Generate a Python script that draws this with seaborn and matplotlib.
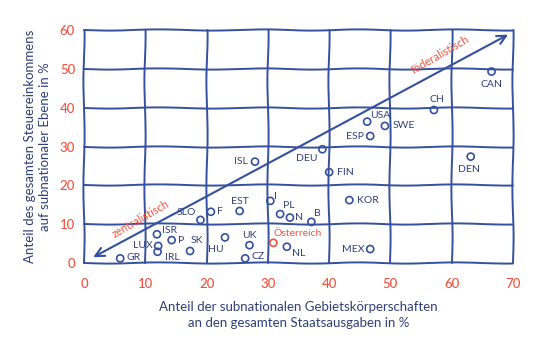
import matplotlib
matplotlib.use("Agg")
import matplotlib.pyplot as plt
import seaborn as sns
import pandas as pd

# ---- data ----
countries = ["CAN", "CH", "USA", "SWE", "ESP", "ISL", "EST", "F", "SLO", "I",
             "PL", "N", "B", "Österreich", "NL", "UK", "CZ", "HU", "SK", "P",
             "ISR", "LUX", "IRL", "GR", "DEU", "FIN", "KOR", "MEX", "DEN"]
ausgaben = [66.5, 57.1, 46.2, 49.1, 46.7, 27.9, 25.4, 20.7, 19.0, 30.4,
            32.0, 33.6, 37.1, 30.9, 33.1, 27.0, 26.3, 23.0, 17.3, 14.3,
            11.9, 12.1, 12.0, 5.9, 38.9, 40.0, 43.3, 46.7, 63.1]
steuern = [49.3, 39.4, 36.4, 35.3, 32.7, 26.1, 13.4, 13.2, 11.1, 16.0,
           12.6, 11.7, 10.6, 5.2, 4.2, 4.6, 1.2, 6.6, 3.1, 5.9,
           7.4, 4.4, 2.9, 1.2, 29.3, 23.4, 16.2, 3.6, 27.4]
x_ticks = [0, 10, 20, 30, 40, 50, 60, 70]
y_ticks = [0, 10, 20, 30, 40, 50, 60]
highlight = "Österreich"
x_title = "Anteil der subnationalen Gebietskörperschaften\nan den gesamten Staatsausgaben in %"
y_title = "Anteil des gesamten Steuereinkommens\nauf subnationaler Ebene in %"
arrow_up_text = "föderalistisch"
arrow_down_text = "zentralistisch"

# label placement (offsets in pixels from the point)
label_offsets = {
    "CAN": (0, -13), "CH": (3, 10.5), "USA": (13, 6), "SWE": (18.5, 0),
    "ESP": (-15.5, 0), "ISL": (-14.5, 0), "EST": (0, 9), "F": (9, 0),
    "SLO": (-14, 7), "I": (5, 4), "PL": (9, 9), "N": (9.5, 0), "B": (6.5, 8.5),
    "Österreich": (24, 9), "NL": (12, -6.5), "UK": (0, 10), "CZ": (13, 1.5),
    "HU": (-9.5, -12), "SK": (7, 10), "P": (9, 0), "ISR": (13, 3.5),
    "LUX": (-15.5, 0), "IRL": (15, -5.5), "GR": (13, 0.5), "DEU": (-15.5, -9.5),
    "FIN": (16.5, 0), "KOR": (19, 0), "MEX": (-17, 0), "DEN": (-2, -13),
}

BLUE = "#34509e"
TEXT = "#2f3f78"
RED = "#f1523d"
SKETCH = (0.6, 110, 2)

sns.set_theme(style="white")
plt.rcParams["font.family"] = ["Lato", "DejaVu Sans"]

df = pd.DataFrame({"land": countries, "ausgaben": ausgaben, "steuern": steuern})
df["gruppe"] = ["hl" if c == highlight else "std" for c in countries]

fig = plt.figure(figsize=(5.35, 3.49), dpi=100)
ax = fig.add_axes([0.1456, 0.2352, 0.8247, 0.69])

# hand-drawn grid box
for xv in x_ticks:
    ln, = ax.plot([xv, xv], [y_ticks[0], y_ticks[-1]], color=BLUE, lw=1.4, zorder=1)
    ln.set_sketch_params(*SKETCH)
for yv in y_ticks:
    ln, = ax.plot([x_ticks[0], x_ticks[-1]], [yv, yv], color=BLUE, lw=1.4, zorder=1)
    ln.set_sketch_params(*SKETCH)

sns.scatterplot(data=df, x="ausgaben", y="steuern", hue="gruppe",
                palette={"std": BLUE, "hl": RED}, s=26, marker="o",
                legend=False, ax=ax, zorder=3)
for coll in ax.collections:
    coll.set_edgecolor(coll.get_facecolor())
    coll.set_facecolor("none")
    coll.set_linewidth(1.2)

# diagonal arrow
ax.annotate("", xy=(69.2, 58.8), xytext=(1.5, 1.5),
            arrowprops=dict(arrowstyle="<->", color=BLUE, lw=1.5, mutation_scale=16,
                            shrinkA=0, shrinkB=0), zorder=2)
ax.text(58.2, 53.6, arrow_up_text, color=RED, fontsize=8, rotation=30,
        ha="center", va="center")
ax.text(9.3, 11.3, arrow_down_text, color=RED, fontsize=8, rotation=30,
        ha="center", va="center")

for _, r in df.iterrows():
    col = RED if r["land"] == highlight else TEXT
    ax.annotate(r["land"], (r["ausgaben"], r["steuern"]),
                xytext=label_offsets[r["land"]], textcoords="offset pixels",
                ha="center", va="center", fontsize=7.5, color=col, zorder=4)

ax.set_xlim(-1, 71)
ax.set_ylim(-1, 61)
ax.set_xticks(x_ticks)
ax.set_yticks(y_ticks)
ax.tick_params(axis="both", length=0, colors=RED, labelsize=9.5)
ax.tick_params(axis="x", pad=8)
ax.tick_params(axis="y", pad=2)
for t in ax.get_xticklabels() + ax.get_yticklabels():
    t.set_fontweight("medium")
for s in ax.spines.values():
    s.set_visible(False)
ax.grid(False)
ax.set_xlabel(x_title, color=TEXT, fontsize=9.5, labelpad=8, linespacing=1.35)
ax.set_ylabel(y_title, color=TEXT, fontsize=9.5, labelpad=6, linespacing=1.35)

fig.savefig("out.png", dpi=100, facecolor="white")
